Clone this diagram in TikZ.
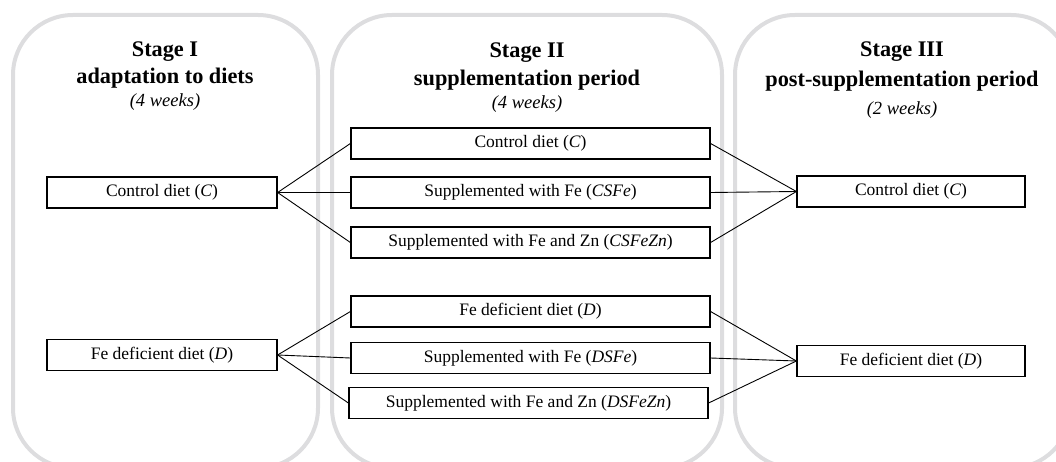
\documentclass[tikz,border=0pt]{standalone}
\usepackage{fontspec}
\setmainfont{Liberation Serif}
\usepackage{tikz}

\definecolor{panelgray}{RGB}{221,221,223}

\tikzset{
  panel/.style={draw=panelgray, line width=4pt, rounded corners=60pt},
  dietbox/.style={draw, line width=1.2pt, minimum height=31pt, inner sep=0pt,
    font=\fontsize{17.5}{21}\selectfont},
  stagehead/.style={inner sep=0pt, font=\fontsize{22.3}{26}\selectfont\bfseries},
  stagetime/.style={inner sep=0pt, font=\fontsize{18.5}{22}\selectfont\itshape},
  link/.style={line width=0.9pt}
}

\begin{document}
\begin{tikzpicture}[x=1pt, y=-1pt]
    % Frame of the whole picture
    \useasboundingbox (0,0) rectangle (1056,462);

    % Grey stage panels, open at the bottom edge
    \begin{scope}
      \clip (0,0) rectangle (1056,462);
      \draw[panel] (13,15) rectangle (318,468);
      \draw[panel] (332,15) rectangle (722,468);
      \draw[panel] (735,15) rectangle (1071,468);
    \end{scope}

    % Stage headings
    \node[stagehead] (s1title) at (165,52) {Stage I};
    \node[stagehead] (s1name) at (165,78) {adaptation to diets};
    \node[stagetime] (s1time) at (165,102) {(4 weeks)};

    \node[stagehead] (s2title) at (527,53) {Stage II};
    \node[stagehead] (s2name) at (527,80) {supplementation period};
    \node[stagetime] (s2time) at (527,104) {(4 weeks)};

    \node[stagehead] (s3title) at (902,52) {Stage III};
    \node[stagehead] (s3name) at (902,81) {post-supplementation period};
    \node[stagetime] (s3time) at (902,110) {(2 weeks)};

    % Stage I diets
    \node[dietbox, minimum width=230pt] (c1) at (162,192.5) {Control diet (\textit{C})};
    \node[dietbox, minimum width=230pt] (d1) at (162,355) {Fe deficient diet (\textit{D})};

    % Stage II diets
    \node[dietbox, minimum width=359pt] (c2) at (530.5,143.5) {Control diet (\textit{C})};
    \node[dietbox, minimum width=359pt] (csfe) at (530.5,192.5) {Supplemented with Fe (\textit{CSFe})};
    \node[dietbox, minimum width=359pt] (csfezn) at (530.5,242.5) {Supplemented with Fe and Zn (\textit{CSFeZn})};
    \node[dietbox, minimum width=359pt] (d2) at (530.5,311.5) {Fe deficient diet (\textit{D})};
    \node[dietbox, minimum width=359pt] (dsfe) at (530.5,358) {Supplemented with Fe (\textit{DSFe})};
    \node[dietbox, minimum width=359pt] (dsfezn) at (528.5,403) {Supplemented with Fe and Zn (\textit{DSFeZn})};

    % Stage III diets
    \node[dietbox, minimum width=228pt] (c3) at (911,191.5) {Control diet (\textit{C})};
    \node[dietbox, minimum width=228pt] (d3) at (911,361) {Fe deficient diet (\textit{D})};

    % Links from stage I to stage II
    \foreach \to in {c2,csfe,csfezn}
      \draw[link] (c1.east) -- (\to.west);
    \foreach \to in {d2,dsfe,dsfezn}
      \draw[link] (d1.east) -- (\to.west);

    % Links from stage II to stage III
    \foreach \from in {c2,csfe,csfezn}
      \draw[link] (\from.east) -- (c3.west);
    \foreach \from in {d2,dsfe,dsfezn}
      \draw[link] (\from.east) -- (d3.west);

\end{tikzpicture}
\end{document}
